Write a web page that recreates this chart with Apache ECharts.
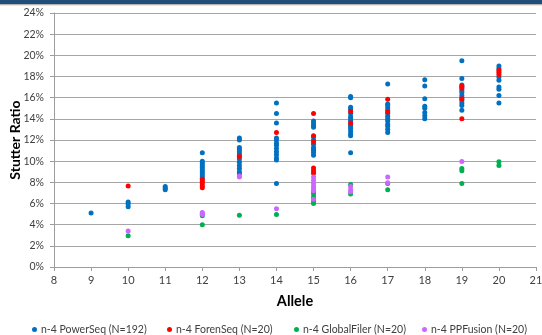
<!DOCTYPE html>
<html>
<head>
<meta charset="utf-8">
<script src="https://cdn.jsdelivr.net/npm/echarts@6/dist/echarts.min.js"></script>
<style>
  html, body { margin: 0; padding: 0; background: #fff; }
  #chart { width: 542px; height: 335px; }
</style>
</head>
<body>
<div id="chart"></div>
<script>
// Stutter ratios (%) grouped by allele: [allele, [ratios...]]
const powerSeq = [
  [9,  [5.1]],
  [10, [6.15, 5.95, 5.7]],
  [11, [7.6, 7.45, 7.3]],
  [12, [10.8, 10.0, 9.8, 9.6, 9.4, 9.2, 9.0, 8.8, 8.6, 8.4]],
  [13, [12.2, 12.0, 11.3, 11.1, 10.9, 10.7, 10.5, 10.2, 9.9, 9.6, 9.3, 9.0, 8.8]],
  [14, [15.5, 14.5, 13.6, 12.2, 12.0, 11.7, 11.5, 11.2, 10.9, 10.6, 10.3, 10.1, 7.9]],
  [15, [13.8, 13.6, 13.4, 13.2, 12.3, 12.0, 11.6, 11.3, 11.15, 11.0, 10.8, 10.55]],
  [16, [16.1, 16.0, 15.1, 14.9, 14.5, 14.2, 14.0, 13.8, 13.5, 13.3, 13.1, 12.85, 12.6, 12.4, 10.8]],
  [17, [17.3, 15.4, 15.3, 15.05, 14.8, 14.5, 14.25, 14.0, 13.8, 13.5, 13.3, 13.0, 12.7]],
  [18, [17.7, 17.1, 15.9, 15.2, 15.0, 14.6, 14.3, 14.0]],
  [19, [19.5, 17.8, 17.2, 17.0, 16.7, 16.5, 16.2, 16.0, 15.75, 15.5, 15.25, 14.8]],
  [20, [19.0, 18.75, 17.95, 17.65, 17.0, 16.8, 16.2, 15.5]]
];
const forenSeq = [
  [10, [7.65]],
  [12, [8.3, 8.1, 7.9, 7.65, 7.5]],
  [13, [10.45]],
  [14, [12.7]],
  [15, [14.5, 12.4, 11.8, 9.35, 9.1, 8.85]],
  [16, [14.7, 13.6]],
  [17, [15.85, 14.65]],
  [19, [17.1, 16.9, 15.9, 14.0]],
  [20, [18.6, 18.4, 18.2]]
];
const globalFiler = [
  [10, [2.95]],
  [12, [4.85, 4.0]],
  [13, [4.88]],
  [14, [4.95]],
  [15, [7.1, 6.9, 6.6, 6.2, 6.0]],
  [16, [7.8, 6.9]],
  [17, [7.9, 7.3]],
  [19, [9.3, 9.1, 7.9]],
  [20, [9.95, 9.6]]
];
const ppFusion = [
  [10, [3.4]],
  [12, [5.15, 5.05, 4.95]],
  [13, [8.6, 8.5]],
  [14, [5.5]],
  [15, [8.5, 8.2, 7.9, 7.6, 7.4, 7.2, 6.4]],
  [16, [7.6, 7.3, 7.1]],
  [17, [8.5, 7.95]],
  [19, [9.97]]
];

const seriesNames = [
  'n-4 PowerSeq (N=192)',
  'n-4 ForenSeq (N=20)',
  'n-4 GlobalFiler (N=20)',
  'n-4 PPFusion (N=20)'
];
const seriesColors = ['#0070C0', '#FF0000', '#00B050', '#CC66FF'];
const xTicks = { min: 8, max: 21, step: 1 };
const yTicks = { min: 0, max: 24, step: 2 };

function flatten(groups) {
  const pts = [];
  groups.forEach(([allele, vals]) => vals.forEach(v => pts.push([allele, v])));
  return pts;
}

const groups = [powerSeq, forenSeq, globalFiler, ppFusion];
const FONT = 'Lato, "Open Sans", sans-serif';
const legendLefts = [27, 162, 289, 417];

const chart = echarts.init(document.getElementById('chart'), null, { renderer: 'canvas' });
chart.setOption({
  animation: false,
  backgroundColor: '#ffffff',
  textStyle: { fontFamily: FONT },
  graphic: [
    { type: 'rect', shape: { x: 0, y: 0, width: 542, height: 4 }, style: { fill: '#1F4E79' } },
    { type: 'rect', shape: { x: 0, y: 4, width: 542, height: 2 },
      style: { fill: new echarts.graphic.LinearGradient(0, 0, 0, 1, [
        { offset: 0, color: '#9a9a9a' }, { offset: 1, color: '#ffffff' }]) } }
  ],
  grid: { left: 54, right: 6, top: 13, bottom: 68, containLabel: false, outerBoundsMode: 'none' },
  legend: seriesNames.map((n, i) => ({
    data: [n],
    left: legendLefts[i],
    top: 319,
    icon: 'circle',
    itemWidth: 5,
    itemHeight: 5,
    itemGap: 4,
    textStyle: { fontFamily: FONT, fontSize: 10.5, color: '#404040', padding: [0, 0, 0, -1] }
  })),
  xAxis: {
    type: 'value',
    min: xTicks.min, max: xTicks.max, interval: xTicks.step,
    name: 'Allele',
    nameLocation: 'middle',
    nameGap: 27,
    nameMoveOverlap: false,
    nameTextStyle: { fontFamily: FONT, fontSize: 14.5, fontWeight: 'bold', color: '#000' },
    axisLine: { show: true, lineStyle: { color: '#9d9d9d', width: 1 } },
    axisTick: { show: true, length: 4, lineStyle: { color: '#9d9d9d' } },
    axisLabel: { margin: 8, fontSize: 11, color: '#404040', fontFamily: FONT },
    splitLine: { show: false }
  },
  yAxis: {
    type: 'value',
    min: yTicks.min, max: yTicks.max, interval: yTicks.step,
    name: 'Stutter Ratio',
    nameLocation: 'middle',
    nameGap: 32,
    nameMoveOverlap: false,
    nameTextStyle: { fontFamily: FONT, fontSize: 14, fontWeight: 'bold', color: '#000' },
    axisLine: { show: true, lineStyle: { color: '#9d9d9d', width: 1 } },
    axisTick: { show: true, length: 4, lineStyle: { color: '#9d9d9d' } },
    axisLabel: { margin: 10, fontSize: 10.5, color: '#404040', fontFamily: FONT, formatter: '{value}%' },
    splitLine: { show: true, lineStyle: { color: '#a6a6a6', width: 1 } }
  },
  series: groups.map((g, i) => ({
    name: seriesNames[i],
    type: 'scatter',
    data: flatten(g),
    symbol: 'circle',
    symbolSize: 5,
    itemStyle: { color: seriesColors[i], opacity: 1 },
    z: 2 + i
  }))
});
</script>
</body>
</html>
